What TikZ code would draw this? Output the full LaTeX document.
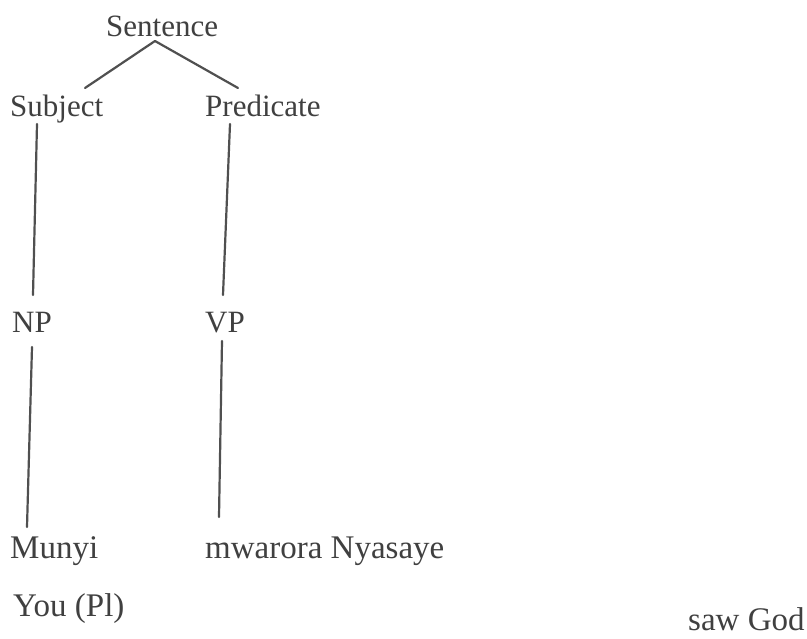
\documentclass[tikz,border=0pt]{standalone}
\usepackage{fontspec}
\setmainfont{Liberation Serif}
\definecolor{ink}{HTML}{404040}
\definecolor{edgec}{HTML}{505050}
\begin{document}
\begin{tikzpicture}[x=1pt,y=1pt,
  lbl/.style={inner sep=0pt,anchor=base west,text=ink,font=\fontsize{31}{36}\selectfont},
  biglbl/.style={lbl,font=\fontsize{33}{38}\selectfont},
  edge/.style={draw=edgec,line width=2.2pt,line cap=round}]
\useasboundingbox[fill=white] (0,0) rectangle (807,-639);
\node[lbl] (sen) at (106,-37) {Sentence};
\node[lbl] (subj) at (10,-117) {Subject};
\node[lbl] (pred) at (205,-117) {Predicate};
\node[lbl] (np) at (12,-333) {NP};
\node[lbl] (vp) at (205,-333) {VP};
\node[biglbl] (mun) at (10,-558) {Munyi};
\node[biglbl] (mwa) at (205,-558) {mwarora Nyasaye};
\node[biglbl] (you) at (13,-616) {You (Pl)};
\node[biglbl] (saw) at (688,-630) {saw God};
\draw[edge] ([shift={(49,-4)}]sen.base west) -- ([shift={(75,29)}]subj.base west);
\draw[edge] ([shift={(49,-4)}]sen.base west) -- ([shift={(33,29)}]pred.base west);
\draw[edge] ([shift={(27,-7)}]subj.base west) -- ([shift={(21,38)}]np.base west);
\draw[edge] ([shift={(25,-7)}]pred.base west) -- ([shift={(18,38)}]vp.base west);
\draw[edge] ([shift={(20,-14)}]np.base west) -- ([shift={(17,31)}]mun.base west);
\draw[edge] ([shift={(17,-8)}]vp.base west) -- ([shift={(14,41)}]mwa.base west);
\end{tikzpicture}
\end{document}
